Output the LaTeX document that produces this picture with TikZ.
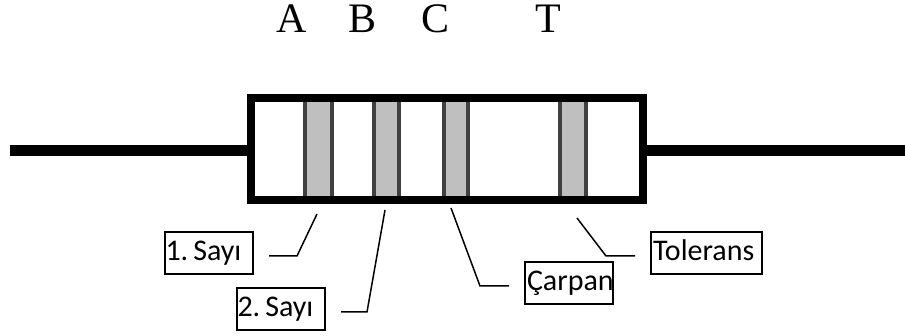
\documentclass[tikz,border=0pt]{standalone}
\usepackage{fontspec}
\setmainfont{Carlito}
\newfontfamily\letterfont{Liberation Serif}
\frenchspacing
\tikzset{resbody/.style={rectangle,draw=black,fill=white,line width=8pt,
outer sep=0pt,minimum height=102pt, minimum width=392pt}}
\tikzset{resband/.style={rectangle,draw=black!75,fill=black!25,line width=3.5pt,
outer sep=0pt,inner sep=0pt,minimum height=98pt}}
\tikzset{reslead/.style={line width=11pt}}
\tikzset{resletter/.style={inner sep=0pt,anchor=base,font=\letterfont\fontsize{42pt}{42pt}\selectfont}}
\tikzset{restag/.style={rectangle,draw=black,line width=1.5pt,align=left,inner xsep=2pt,inner ysep=2pt,
outer sep=0pt,text height=27pt,text depth=11pt,font=\fontsize{30pt}{30pt}\selectfont}}
\tikzset{resleader/.style={line width=1.5pt,shorten <=16pt}}

\begin{document}
\begin{tikzpicture}[x=1pt,y=-1pt]
        \useasboundingbox (0,0) rectangle (905,336);

        \node[resbody] (body) at (446.5,149) {};
        \node[resband,minimum width=27pt] (bandA) at (318.5,149) {};
        \node[resband,minimum width=25pt] (bandB) at (386.5,149) {};
        \node[resband,minimum width=24pt] (bandC) at (456,149) {};
        \node[resband,minimum width=26pt] (bandT) at (573,149) {};
        \node[resbody,fill=none] (frame) at (body) {};

        \coordinate (leadL) at (10,151);
        \coordinate (leadR) at (905,151);
        \draw [reslead] (leadL) -- (leadL -| body.west);
        \draw [reslead] (leadR) -- (leadR -| body.east);

        \node[resletter] (letterA) at (292,33) {A};
        \node[resletter] (letterB) at (363,33) {B};
        \node[resletter] (letterC) at (436,33) {C};
        \node[resletter] (letterT) at (548,33) {T};

        \node[restag,text width=84pt] (tagA) at (209,253) {\hspace{-1.5pt}1.\hspace{5pt}Sayı};
        \node[restag,text width=84pt] (tagB) at (281,309) {\hspace{-1.5pt}2.\hspace{5pt}Sayı};
        \node[restag,text width=84pt] (tagC) at (569,283) {Çarpan};
        \node[restag,text width=107pt] (tagT) at (706.5,253) {Tolerans};

        \coordinate (kneeA) at (297,256);
        \coordinate (kneeB) at (367,312);
        \coordinate (kneeC) at (480,286);
        \coordinate (kneeT) at (606,256);
        \coordinate (endA) at (317,214);
        \coordinate (endB) at (385,210);
        \coordinate (endC) at (451,208);
        \coordinate (endT) at (577,218);
        \draw [resleader] (tagA.east |- kneeA) -- (kneeA) -- (endA);
        \draw [resleader] (tagB.east |- kneeB) -- (kneeB) -- (endB);
        \draw [resleader] (tagC.west |- kneeC) -- (kneeC) -- (endC);
        \draw [resleader] (tagT.west |- kneeT) -- (kneeT) -- (endT);
\end{tikzpicture}
\end{document}
